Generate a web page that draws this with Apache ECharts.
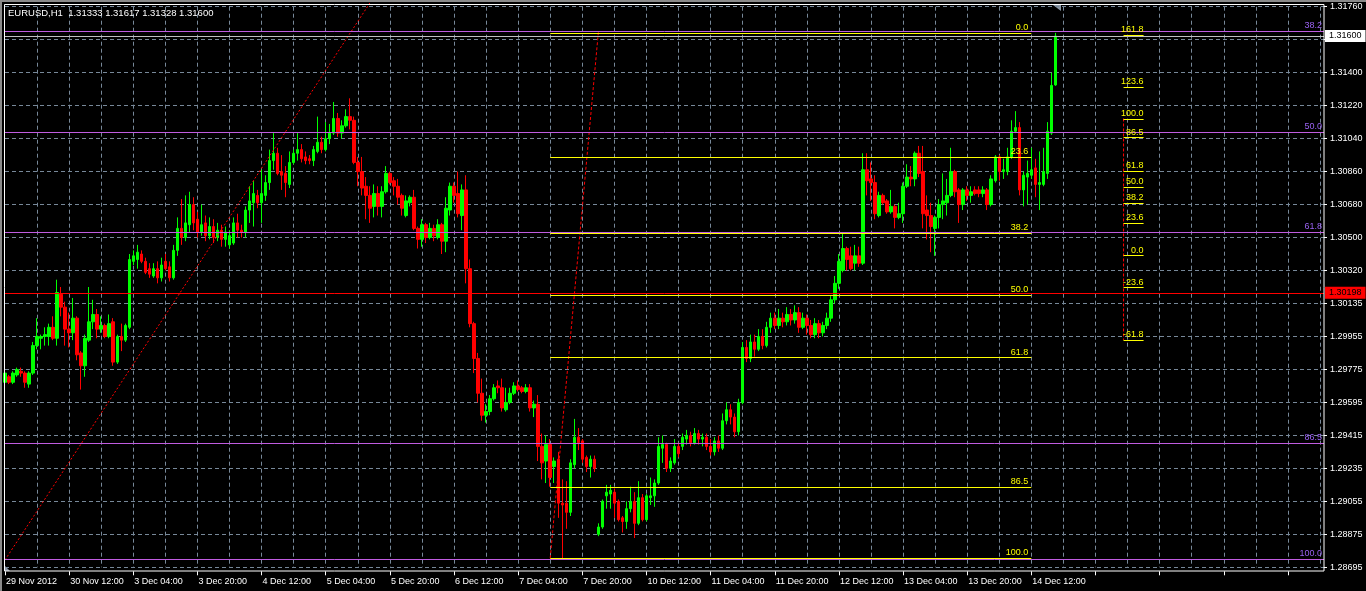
<!DOCTYPE html>
<html>
<head>
<meta charset="utf-8">
<script src="https://cdn.jsdelivr.net/npm/echarts@6/dist/echarts.min.js"></script>
<style>
html,body{margin:0;padding:0;background:#000;}
#chart{width:1366px;height:591px;}
</style>
</head>
<body>
<div id="chart"></div>
<script>
// ---- tick labels ----
const xTickLabels = ['29 Nov 2012','30 Nov 12:00','3 Dec 04:00','3 Dec 20:00','4 Dec 12:00','5 Dec 04:00','5 Dec 20:00','6 Dec 12:00','7 Dec 04:00','7 Dec 20:00','10 Dec 12:00','11 Dec 04:00','11 Dec 20:00','12 Dec 12:00','13 Dec 04:00','13 Dec 20:00','14 Dec 12:00'];
const barsPerLabel = 16;
const barsPerGridLine = 8;
const slotCount = 330;
const yMin = 1.2870, yMax = 1.3176, yStep = 0.0018;
const yTickLabels = ['1.28695','1.28875','1.29055','1.29235','1.29415','1.29595','1.29775','1.29955','1.30135','1.30320','1.30500','1.30680','1.30860','1.31040','1.31220','1.31400','','1.31760'];
const titleText = 'EURUSD,H1  1.31333 1.31617 1.31328 1.31600';

// ---- OHLC (H1 bars) ----
const opens = [
1.2971,1.2974,1.2971,1.2975,1.2977,1.2976,1.2970,1.2976,1.2991,1.2995,
1.2996,1.2996,1.3001,1.2995,1.3019,1.3012,1.3000,1.2998,1.3006,1.2987,
1.2980,1.2994,1.3004,1.3008,1.3000,1.3002,1.2996,1.3004,1.2982,1.2996,
1.2994,1.3001,1.3037,1.3038,1.3041,1.3037,1.3033,1.3029,1.3033,1.3028,
1.3037,1.3034,1.3028,1.3043,1.3055,1.3050,1.3057,1.3068,1.3060,1.3053,
1.3058,1.3051,1.3056,1.3050,1.3054,1.3049,1.3046,1.3047,1.3058,1.3054,
1.3053,1.3065,1.3069,1.3073,1.3069,1.3073,1.3080,1.3092,1.3096,1.3086,
1.3085,1.3079,1.3091,1.3096,1.3098,1.3094,1.3093,1.3092,1.3097,1.3102,
1.3098,1.3104,1.3107,1.3115,1.3107,1.3111,1.3116,1.3114,1.3091,1.3086,
1.3078,1.3073,1.3067,1.3074,1.3067,1.3075,1.3085,1.3081,1.3078,1.3073,
1.3062,1.3069,1.3072,1.3055,1.3049,1.3057,1.3050,1.3055,1.3050,1.3057,
1.3048,1.3065,1.3078,1.3074,1.3062,1.3076,1.3033,1.3003,1.2984,1.2965,
1.2953,1.2955,1.2962,1.2969,1.2968,1.2956,1.2960,1.2965,1.2969,1.2968,
1.2966,1.2968,1.2957,1.2959,1.2936,1.2928,1.2937,1.2925,1.2929,1.2905,
1.2905,1.2900,1.2926,1.2941,1.2939,1.2930,1.2925,1.2929,1.2888,1.2892,
1.2909,1.2910,1.2911,1.2906,1.2897,1.2895,1.2902,1.2906,1.2894,1.2908,
1.2896,1.2908,1.2909,1.2916,1.2935,1.2937,1.2924,1.2927,1.2936,1.2936,
1.2940,1.2942,1.2938,1.2943,1.2940,1.2941,1.2936,1.2933,1.2939,1.2935,
1.2950,1.2956,1.2952,1.2944,1.2960,1.2990,1.2984,1.2993,1.2989,1.2996,
1.2991,1.3001,1.3006,1.3002,1.3006,1.3004,1.3008,1.3005,1.3009,1.3001,
1.3006,1.3002,1.2997,1.3003,1.2998,1.3002,1.3006,1.3016,1.3025,1.3032,
1.3044,1.3040,1.3036,1.3040,1.3036,1.3087,1.3082,1.3080,1.3062,1.3073,
1.3070,1.3064,1.3067,1.3061,1.3063,1.3078,1.3083,1.3082,1.3096,1.3086,
1.3065,1.3062,1.3055,1.3061,1.3068,1.3069,1.3073,1.3086,1.3076,1.3068,
1.3076,1.3073,1.3076,1.3076,1.3074,1.3076,1.3068,1.3081,1.3094,1.3086,
1.3086,1.3094,1.3108,1.3110,1.3076,1.3083,1.3084,1.3088,1.3079,1.3079,
1.3085,1.3107,1.31333];
const closes = [
1.2976,1.2971,1.2976,1.2978,1.2976,1.2971,1.2976,1.2991,1.2996,1.2996,
1.2997,1.3001,1.2995,1.3020,1.3012,1.3000,1.2998,1.3006,1.2986,1.2980,
1.2995,1.3004,1.3008,1.3000,1.3002,1.2996,1.3003,1.2982,1.2996,1.2994,
1.3002,1.3038,1.3040,1.3042,1.3037,1.3031,1.3030,1.3033,1.3028,1.3035,
1.3033,1.3028,1.3043,1.3055,1.3050,1.3058,1.3068,1.3058,1.3053,1.3057,
1.3051,1.3056,1.3050,1.3054,1.3049,1.3053,1.3051,1.3058,1.3054,1.3053,
1.3065,1.3070,1.3074,1.3069,1.3074,1.3080,1.3092,1.3096,1.3085,1.3084,
1.3080,1.3091,1.3096,1.3098,1.3093,1.3092,1.3092,1.3098,1.3102,1.3098,
1.3104,1.3107,1.3115,1.3107,1.3111,1.3116,1.3114,1.3091,1.3086,1.3077,
1.3073,1.3066,1.3074,1.3067,1.3075,1.3085,1.3080,1.3078,1.3072,1.3066,
1.3070,1.3072,1.3055,1.3049,1.3057,1.3050,1.3055,1.3051,1.3057,1.3048,
1.3066,1.3078,1.3073,1.3063,1.3076,1.3033,1.3003,1.2984,1.2965,1.2953,
1.2955,1.2962,1.2968,1.2968,1.2957,1.2960,1.2965,1.2969,1.2967,1.2966,
1.2968,1.2957,1.2959,1.2936,1.2927,1.2937,1.2919,1.2928,1.2905,1.2904,
1.2900,1.2927,1.2941,1.2938,1.2929,1.2925,1.2929,1.2924,1.2892,1.2906,
1.2911,1.2912,1.2905,1.2896,1.2895,1.2902,1.2906,1.2894,1.2908,1.2896,
1.2909,1.2909,1.2916,1.2936,1.2937,1.2924,1.2928,1.2936,1.2932,1.2941,
1.2942,1.2938,1.2943,1.2940,1.2941,1.2936,1.2933,1.2939,1.2935,1.2950,
1.2956,1.2952,1.2944,1.2960,1.2990,1.2984,1.2993,1.2989,1.2996,1.2991,
1.3001,1.3006,1.3002,1.3006,1.3004,1.3008,1.3005,1.3009,1.3001,1.3006,
1.3002,1.2997,1.3003,1.2998,1.3002,1.3006,1.3016,1.3025,1.3037,1.3044,
1.3038,1.3033,1.3040,1.3036,1.3087,1.3081,1.3080,1.3063,1.3073,1.3069,
1.3064,1.3067,1.3061,1.3063,1.3078,1.3083,1.3082,1.3096,1.3085,1.3063,
1.3062,1.3056,1.3061,1.3068,1.3070,1.3073,1.3086,1.3075,1.3068,1.3076,
1.3073,1.3075,1.3074,1.3074,1.3076,1.3068,1.3082,1.3094,1.3086,1.3087,
1.3094,1.3108,1.3110,1.3076,1.3084,1.3085,1.3087,1.3079,1.3080,1.3086,
1.3108,1.3133,1.31600];
const lows = [
1.2967,1.2970,1.2970,1.2974,1.2974,1.2968,1.2968,1.2975,1.2989,1.2989,
1.2991,1.2991,1.2994,1.2991,1.3007,1.2991,1.2990,1.2994,1.2983,1.2967,
1.2974,1.2993,1.3000,1.2995,1.2998,1.2995,1.2995,1.2980,1.2981,1.2988,
1.2993,1.3000,1.3035,1.3033,1.3036,1.3030,1.3028,1.3028,1.3025,1.3026,
1.3032,1.3026,1.3027,1.3040,1.3046,1.3048,1.3053,1.3054,1.3050,1.3051,
1.3048,1.3049,1.3047,1.3048,1.3045,1.3045,1.3044,1.3046,1.3050,1.3050,
1.3050,1.3058,1.3056,1.3066,1.3058,1.3070,1.3076,1.3087,1.3084,1.3076,
1.3072,1.3077,1.3090,1.3092,1.3091,1.3090,1.3090,1.3089,1.3096,1.3096,
1.3097,1.3101,1.3106,1.3105,1.3104,1.3110,1.3109,1.3090,1.3078,1.3073,
1.3060,1.3058,1.3061,1.3062,1.3061,1.3074,1.3079,1.3073,1.3068,1.3062,
1.3061,1.3067,1.3054,1.3044,1.3045,1.3047,1.3049,1.3048,1.3049,1.3041,
1.3042,1.3062,1.3069,1.3061,1.3054,1.3025,1.3001,1.2976,1.2960,1.2950,
1.2949,1.2953,1.2961,1.2965,1.2955,1.2955,1.2959,1.2964,1.2966,1.2965,
1.2965,1.2955,1.2952,1.2928,1.2918,1.2916,1.2914,1.2916,1.2897,1.2875,
1.2891,1.2898,1.2924,1.2934,1.2927,1.2922,1.2919,1.2922,1.2887,1.2891,
1.2902,1.2902,1.2897,1.2895,1.2889,1.2891,1.2900,1.2886,1.2893,1.2895,
1.2895,1.2904,1.2903,1.2915,1.2927,1.2922,1.2922,1.2926,1.2930,1.2934,
1.2937,1.2936,1.2937,1.2937,1.2936,1.2934,1.2931,1.2931,1.2933,1.2934,
1.2948,1.2948,1.2941,1.2942,1.2959,1.2982,1.2982,1.2985,1.2988,1.2989,
1.2990,1.2998,1.3000,1.3000,1.3001,1.3002,1.3002,1.3003,1.2998,1.3000,
1.2997,1.2995,1.2995,1.2995,1.2996,1.3000,1.3004,1.3014,1.3022,1.3031,
1.3032,1.3032,1.3032,1.3034,1.3035,1.3073,1.3070,1.3060,1.3061,1.3068,
1.3063,1.3063,1.3055,1.3060,1.3058,1.3077,1.3078,1.3078,1.3083,1.3055,
1.3049,1.3042,1.3040,1.3055,1.3060,1.3062,1.3072,1.3072,1.3058,1.3065,
1.3070,1.3069,1.3073,1.3072,1.3072,1.3065,1.3067,1.3080,1.3081,1.3082,
1.3084,1.3093,1.3107,1.3073,1.3067,1.3068,1.3082,1.3072,1.3065,1.3078,
1.3082,1.3106,1.31328];
const highs = [
1.2976,1.2975,1.2977,1.2979,1.2979,1.2977,1.2977,1.2993,1.3006,1.2997,
1.3001,1.3003,1.3007,1.3027,1.3023,1.3015,1.3009,1.3017,1.3007,1.2988,
1.2997,1.3023,1.3016,1.3011,1.3007,1.3003,1.3008,1.3006,1.2997,1.3003,
1.3003,1.3041,1.3043,1.3046,1.3043,1.3039,1.3036,1.3036,1.3037,1.3039,
1.3041,1.3037,1.3046,1.3061,1.3071,1.3073,1.3075,1.3072,1.3064,1.3068,
1.3062,1.3061,1.3060,1.3058,1.3057,1.3056,1.3054,1.3061,1.3063,1.3057,
1.3067,1.3078,1.3081,1.3076,1.3087,1.3084,1.3098,1.3107,1.3099,1.3095,
1.3089,1.3097,1.3098,1.3107,1.3101,1.3097,1.3095,1.3100,1.3116,1.3105,
1.3113,1.3112,1.3124,1.3118,1.3114,1.3120,1.3126,1.3116,1.3094,1.3094,
1.3083,1.3078,1.3079,1.3078,1.3078,1.3089,1.3086,1.3083,1.3082,1.3074,
1.3073,1.3073,1.3076,1.3056,1.3060,1.3058,1.3058,1.3057,1.3060,1.3058,
1.3072,1.3080,1.3080,1.3086,1.3079,1.3084,1.3038,1.3004,1.2987,1.2973,
1.2959,1.2964,1.2970,1.2972,1.2973,1.2968,1.2968,1.2971,1.2972,1.2969,
1.2970,1.2970,1.2961,1.2964,1.2943,1.2942,1.2940,1.2930,1.2933,1.2918,
1.2917,1.2929,1.2951,1.2946,1.2940,1.2931,1.2931,1.2931,1.2894,1.2907,
1.2915,1.2915,1.2913,1.2907,1.2898,1.2906,1.2914,1.2911,1.2917,1.2910,
1.2910,1.2919,1.2918,1.2941,1.2942,1.2938,1.2930,1.2940,1.2938,1.2943,
1.2945,1.2944,1.2946,1.2945,1.2943,1.2943,1.2940,1.2941,1.2942,1.2954,
1.2960,1.2959,1.2954,1.2962,1.2993,1.2994,1.2997,1.2997,1.3000,1.3000,
1.3004,1.3009,1.3009,1.3011,1.3009,1.3012,1.3011,1.3013,1.3012,1.3009,
1.3008,1.3005,1.3006,1.3005,1.3004,1.3009,1.3018,1.3029,1.3041,1.3052,
1.3045,1.3045,1.3046,1.3045,1.3096,1.3096,1.3091,1.3084,1.3075,1.3074,
1.3071,1.3076,1.3068,1.3069,1.3080,1.3090,1.3089,1.3097,1.3100,1.3100,
1.3073,1.3069,1.3062,1.3071,1.3085,1.3082,1.3099,1.3087,1.3077,1.3077,
1.3078,1.3078,1.3078,1.3078,1.3078,1.3077,1.3084,1.3095,1.3095,1.3093,
1.3099,1.3114,1.3119,1.3113,1.3086,1.3092,1.3099,1.3093,1.3097,1.3099,
1.3113,1.3140,1.31617];

// ---- drawn objects ----
const purpleFibLabels = ['38.2','50.0','61.8','86.5','100.0'];
const purpleFibPrices = [1.31625, 1.31075, 1.30530, 1.29379, 1.28744];
const purpleTrend = [[0, 1.2874], [91, 1.3178]];

const yellowFibLabels = ['0.0','23.6','38.2','50.0','61.8','86.5','100.0'];
const yellowFibPrices = [1.31617, 1.30940, 1.30522, 1.30184, 1.29845, 1.29137, 1.28750];
const yellowFibBars = [136, 256];
const yellowTrend = [[136, 1.2875], [148, 1.3162]];

const expLabels = ['161.8','123.6','100.0','86.5','61.8','50.0','38.2','23.6','0.0','-23.6','-61.8'];
const expPrices = [1.31606, 1.31322, 1.31146, 1.31045, 1.30861, 1.30774, 1.30686, 1.30577, 1.30401, 1.30226, 1.29941];
const expBars = [279, 284];
const expTrend = [[279, 1.31150], [279, 1.29941]];

const bidPrice = 1.31600, bidLabel = '1.31600';
const hLinePrice = 1.30198, hLineLabel = '1.30198';

// ---- colours ----
const UP = '#00ff00', DOWN = '#ff0000';
const GRID = '#778899';
const PURPLE = '#c05ce0', PURPLE_TXT = '#9a62f2';
const YELLOW = '#ffff00';
const FONT = 'Liberation Sans';

const candles = opens.map((o, i) => [o, closes[i], lows[i], highs[i]]);
const cats = Array.from({length: slotCount}, (_, i) => String(i));

// full-width horizontal objects
const fullLines = [];
purpleFibPrices.forEach((p, i) => fullLines.push({
  yAxis: p,
  lineStyle: {color: PURPLE, width: 1, type: 'solid'},
  label: {show: true, formatter: purpleFibLabels[i], position: 'insideEndTop', color: PURPLE_TXT, fontSize: 9, fontFamily: FONT, distance: [2, 1]}
}));
fullLines.push({
  yAxis: bidPrice,
  lineStyle: {color: '#c0c0c0', width: 1, type: 'solid'},
  label: {show: true, formatter: bidLabel, position: 'end', distance: 1, color: '#000', backgroundColor: '#fff', padding: [2, 4, 1, 4], fontSize: 9, fontFamily: FONT}
});
fullLines.push({
  yAxis: hLinePrice,
  lineStyle: {color: '#ff0000', width: 1, type: 'solid'},
  label: {show: true, formatter: hLineLabel, position: 'end', distance: 1, color: '#000', backgroundColor: '#ff0000', padding: [2, 4, 1, 4], fontSize: 9, fontFamily: FONT}
});

// short level segments (yellow), each with its label at the right end
function segs(bars, prices, labels, dist) {
  return prices.map((p, i) => [
    {coord: [bars[0], p],
     lineStyle: {color: YELLOW, width: 1, type: 'solid'},
     label: {show: true, formatter: labels[i], position: 'insideEndTop', color: YELLOW, fontSize: 9, fontFamily: FONT, distance: [dist, 1]}},
    {coord: [bars[1], p], lineStyle: {color: YELLOW, width: 1, type: 'solid'}}
  ]);
}

const chart = echarts.init(document.getElementById('chart'), null, {renderer: 'canvas'});
chart.setOption({
  backgroundColor: '#000',
  animation: false,
  textStyle: {fontFamily: FONT},
  title: {
    text: titleText, left: 8, top: 8, padding: 0,
    textStyle: {color: '#fff', fontSize: 9.5, fontWeight: 'normal', fontFamily: FONT}
  },
  grid: {left: 5, right: 42, top: 6.7, bottom: 23.7, containLabel: false},
  xAxis: {
    type: 'category', data: cats, boundaryGap: false, offset: 4,
    axisLine: {show: false},
    axisTick: {show: true, interval: (i) => i % barsPerLabel === 0, length: 4, lineStyle: {color: '#fff'}},
    axisLabel: {
      show: true, interval: (i) => i % barsPerLabel === 0, color: '#fff', fontSize: 9, fontFamily: FONT,
      align: 'left', margin: 6, padding: [0, 0, 0, 1],
      formatter: (v, i) => (i % barsPerLabel === 0 && xTickLabels[i / barsPerLabel]) ? xTickLabels[i / barsPerLabel] : ''
    },
    splitLine: {show: true, interval: (i) => i % barsPerGridLine === 0 && i > 0, lineStyle: {color: GRID, type: [4, 3], width: 1}}
  },
  yAxis: {
    type: 'value', position: 'right', min: yMin, max: yMax, interval: yStep, scale: true,
    axisLine: {show: false},
    axisTick: {show: true, length: 3, lineStyle: {color: '#fff'}},
    axisLabel: {
      color: '#fff', fontSize: 9, fontFamily: FONT, margin: 6,
      formatter: (v) => { const k = Math.round((v - yMin) / yStep); return yTickLabels[k] !== undefined ? yTickLabels[k] : ''; }
    },
    splitLine: {show: true, lineStyle: {color: GRID, type: [4, 3], width: 1}}
  },
  series: [
    {
      type: 'candlestick', name: 'EURUSD', data: candles, barWidth: 3, clip: false,
      itemStyle: {color: UP, color0: DOWN, borderColor: UP, borderColor0: DOWN, borderWidth: 1},
      markLine: {silent: true, symbol: ['none', 'none'], animation: false, precision: 5, data: fullLines}
    },
    {
      type: 'line', name: 'fibo', data: [], symbol: 'none', silent: true, color: YELLOW,
      markLine: {
        silent: true, symbol: ['none', 'none'], animation: false, precision: 5,
        lineStyle: {color: YELLOW, width: 1, type: 'solid'},
        emphasis: {disabled: true},
        data: segs(yellowFibBars, yellowFibPrices, yellowFibLabels, 3)
      }
    },
    {
      type: 'line', name: 'expansion', data: [], symbol: 'none', silent: true, color: YELLOW,
      markLine: {
        silent: true, symbol: ['none', 'none'], animation: false, precision: 5,
        lineStyle: {color: YELLOW, width: 1, type: 'solid'},
        emphasis: {disabled: true},
        data: segs(expBars, expPrices, expLabels, 0)
      }
    },
    {type: 'line', data: purpleTrend, symbol: 'none', clip: false, silent: true, lineStyle: {color: '#ff0000', width: 1, type: [2, 2]}},
    {type: 'line', data: yellowTrend, symbol: 'none', clip: false, silent: true, lineStyle: {color: '#ff0000', width: 1, type: [3, 2]}},
    {type: 'line', data: expTrend, symbol: 'none', clip: false, silent: true, lineStyle: {color: '#ff0000', width: 1, type: [3, 2]}}
  ],
  graphic: [
    {type: 'rect', shape: {x: 0, y: 0, width: 1366, height: 2}, style: {fill: '#8a8a8a'}, silent: true},
    {type: 'rect', shape: {x: 0, y: 0, width: 2, height: 591}, style: {fill: '#8a8a8a'}, silent: true},
    {type: 'rect', shape: {x: 4.5, y: 4.5, width: 1319.5, height: 566.5}, style: {fill: null, stroke: '#fff', lineWidth: 1}, silent: true, z: 10},
    {type: 'polygon', shape: {points: [[1053, 5], [1061, 5], [1061, 11]]}, style: {fill: '#8a96a4'}, silent: true},
    {type: 'polygon', shape: {points: [[5, 566], [5, 571], [10, 571]]}, style: {fill: '#8a96a4'}, silent: true}
  ]
});
</script>
</body>
</html>
